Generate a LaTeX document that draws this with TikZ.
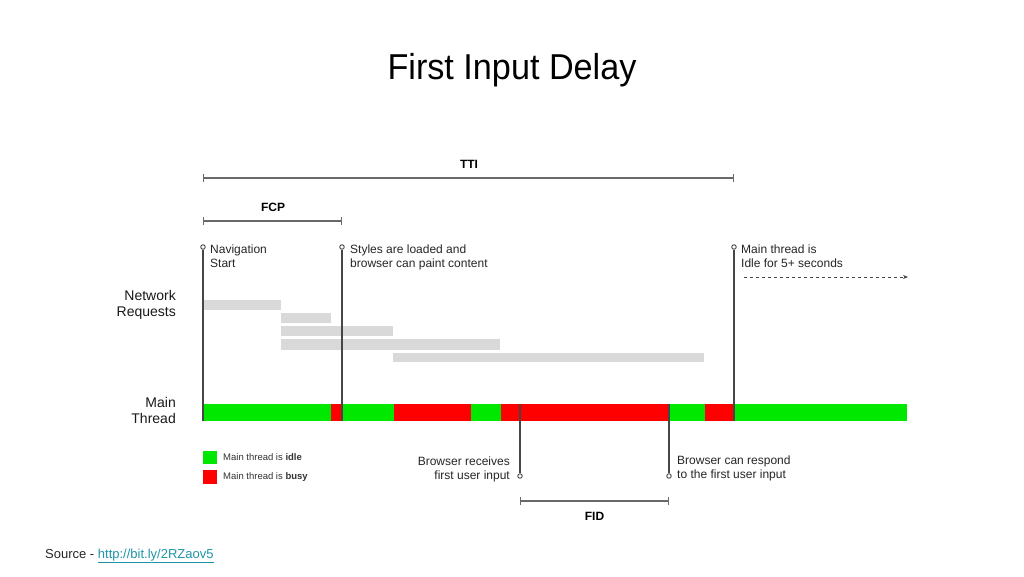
\documentclass[tikz,border=0pt]{standalone}
\usepackage{fontspec}
\setmainfont{Liberation Sans}
\newfontfamily\titlefont{Liberation Sans}[FakeStretch=0.95]
\usetikzlibrary{arrows.meta}
\definecolor{idlegreen}{RGB}{0,232,0}
\definecolor{busyred}{RGB}{255,0,0}
\definecolor{reqgray}{RGB}{217,217,217}
\definecolor{markgray}{RGB}{70,70,70}
\definecolor{spangray}{RGB}{105,105,105}
\definecolor{linkteal}{RGB}{30,150,165}
\tikzset{
  spanline/.style={draw=spangray, line width=1.8pt, {Bar[width=8pt,line width=0.9pt]}-{Bar[width=8pt,line width=0.9pt]}},
  markline/.style={draw=markgray, line width=1.3pt},
  marker/.style={circle, draw=markgray, fill=white, line width=0.9pt, inner sep=0pt, minimum size=4.5pt},
  spanlabel/.style={font=\fontsize{12}{14}\selectfont\bfseries, inner sep=0pt, anchor=base},
  eventlabel/.style={font=\fontsize{12}{14}\selectfont, text=black!85, inner sep=0pt},
  rowlabel/.style={font=\fontsize{14}{16.5}\selectfont, text=black!90, inner sep=0pt, align=right, anchor=north east},
  legendtext/.style={font=\fontsize{9.5}{11}\selectfont, text=black!80, inner sep=0pt, anchor=west}
}
\begin{document}
\begin{tikzpicture}[x=1pt,y=-1pt]
\useasboundingbox[fill=white] (0,0) rectangle (1024,576);
\node[font=\fontsize{36}{40}\selectfont\titlefont, anchor=base, inner sep=0pt] (title) at (512,79) {First Input Delay};
\coordinate (ttiL) at (203,178);
\coordinate (ttiR) at (734,178);
\draw[spanline] (ttiL) -- (ttiR);
\node[spanlabel] (tti) at (469,168) {TTI};
\coordinate (fcpL) at (203,221);
\coordinate (fcpR) at (342,221);
\draw[spanline] (fcpL) -- (fcpR);
\node[spanlabel] (fcp) at (273,211.5) {FCP};
\node[rowlabel] (network) at (176,290) {Network\\Requests};
\node[rowlabel] (mainthread) at (176,397) {Main\\Thread};
\fill[reqgray] (203,300) rectangle (281,310);
\fill[reqgray] (281,313) rectangle (331,323);
\fill[reqgray] (281,326) rectangle (393,336);
\fill[reqgray] (281,339) rectangle (500,350);
\fill[reqgray] (393,353) rectangle (704,362);
\fill[idlegreen] (203,404) rectangle (331,421);
\fill[busyred] (331,404) rectangle (342,421);
\fill[idlegreen] (342,404) rectangle (394,421);
\fill[busyred] (394,404) rectangle (471,421);
\fill[idlegreen] (471,404) rectangle (501,421);
\fill[busyred] (501,404) rectangle (669,421);
\fill[idlegreen] (669,404) rectangle (705,421);
\fill[busyred] (705,404) rectangle (734,421);
\fill[idlegreen] (734,404) rectangle (907,421);
\node[marker] (navtop) at (203,247) {};
\coordinate (navbot) at (203,421);
\draw[markline] (navtop.south) -- (navbot);
\node[eventlabel, anchor=north west, align=left] (navtext) at (210,245) {Navigation\\Start};
\node[marker] (styletop) at (342,247) {};
\coordinate (stylebot) at (342,421);
\draw[markline] (styletop.south) -- (stylebot);
\node[eventlabel, anchor=north west, align=left] (styletext) at (350,245) {Styles are loaded and\\browser can paint content};
\node[marker] (idletop) at (734,247) {};
\coordinate (idlebot) at (734,421);
\draw[markline] (idletop.south) -- (idlebot);
\node[eventlabel, anchor=north west, align=left] (idletext) at (741,245) {Main thread is\\Idle for 5+ seconds};
\coordinate (idlefrom) at (744,277);
\coordinate (idleto) at (908,277);
\draw[markline, line width=0.9pt, dash pattern=on 3pt off 3pt, -{Stealth[length=5pt,width=4pt]}] (idlefrom) -- (idleto);
\coordinate (inputtop) at (520,404);
\node[marker] (inputbot) at (520,476) {};
\draw[markline] (inputtop) -- (inputbot.north);
\node[eventlabel, anchor=north east, align=right] (inputtext) at (510,457) {Browser receives\\first user input};
\coordinate (respondtop) at (669,404);
\node[marker] (respondbot) at (669,476) {};
\draw[markline] (respondtop) -- (respondbot.north);
\node[eventlabel, anchor=north west, align=left] (respondtext) at (677,456) {Browser can respond\\to the first user input};
\coordinate (fidL) at (520,501);
\coordinate (fidR) at (669,501);
\draw[spanline] (fidL) -- (fidR);
\node[spanlabel] (fid) at (594.5,520) {FID};
\fill[idlegreen] (203,451) rectangle (217,464);
\fill[busyred] (203,470) rectangle (217,484);
\node[legendtext] (idlekey) at (223,457.5) {Main thread is \textbf{idle}};
\node[legendtext] (busykey) at (223,477) {Main thread is \textbf{busy}};
\node[font=\fontsize{13}{15}\selectfont, text=black!85, anchor=base west, inner sep=0pt] (source) at (45,558) {Source - \textcolor{linkteal}{\underline{http://bit.ly/2RZaov5}}};
\end{tikzpicture}
\end{document}
